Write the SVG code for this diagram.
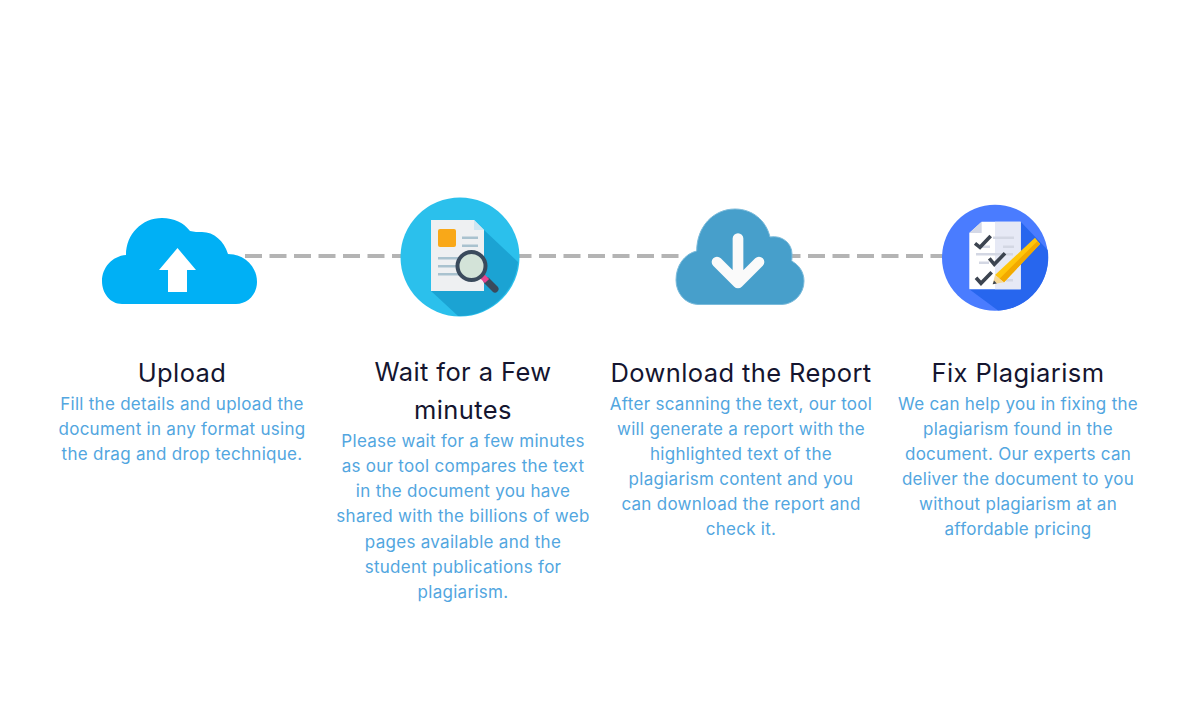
<svg xmlns="http://www.w3.org/2000/svg" width="1200" height="720" viewBox="0 0 1200 720">
<style>
.h{font-family:"Inter","Open Sans",sans-serif;font-size:25.5px;letter-spacing:.4px;fill:#14152f;text-anchor:middle}
.b{font-family:"Inter","Open Sans",sans-serif;font-size:17px;letter-spacing:.28px;fill:#52a6e0;text-anchor:middle}
.c{stroke:#b4b4b4;stroke-width:4;stroke-dasharray:17 7.5;fill:none}
</style>
<rect width="1200" height="720" fill="#fff"/>
<g id="connectors">
<line class="c" x1="245" y1="256" x2="404" y2="256"/>
<line class="c" x1="514.5" y1="256" x2="680" y2="256"/>
<line class="c" x1="783.5" y1="256" x2="950" y2="256"/>
</g>
<g id="node-upload">
<path d="M122 304C110 304 102 293 102 281C102 268 112 256 126 255C126 234 142 218 162 218C174 218 184 223 190 231C194 232 198 232 202 232C214 232 224 241 228 254C244 254 257 266 257 282C257 294 248 304 236 304Z" fill="#00b0f5"/>
<path d="M177.500 248L196 270H187V292H168V270H159Z" fill="#fff"/>
<text class="h" x="182" y="382">Upload</text>
<text class="b" x="182" y="410">Fill the details and upload the</text>
<text class="b" x="182" y="435">document in any format using</text>
<text class="b" x="182" y="460">the drag and drop technique.</text>
</g>
<g id="node-wait">
<circle cx="460" cy="257" r="59.500" fill="#2bc0ec"/>
<path d="M484 230L518 262A59.500 59.500 0 0 1 458 316L431 291Z" fill="#1ba3d3"/>
<path d="M431 220H474L484 230V291H431Z" fill="#eef0f2"/>
<path d="M474 220L484 230H474Z" fill="#cfe6f2"/>
<rect x="438" y="229" width="18" height="18" rx="2" fill="#f9a818"/>
<rect x="462" y="236.500" width="16" height="2.500" fill="#a9c2cf"/>
<rect x="462" y="244.500" width="16" height="2.500" fill="#a9c2cf"/>
<rect x="438" y="257" width="22" height="2.500" fill="#a9c2cf"/>
<rect x="438" y="265" width="22" height="2.500" fill="#a9c2cf"/>
<rect x="438" y="273" width="22" height="2.500" fill="#a9c2cf"/>
<line x1="487" y1="281" x2="495" y2="289" stroke="#3a4a5c" stroke-width="7" stroke-linecap="round"/>
<line x1="481" y1="275" x2="487" y2="281" stroke="#e8458f" stroke-width="6"/>
<circle cx="471.500" cy="266" r="14" fill="#d3e3d8" stroke="#3a4a5c" stroke-width="4"/>
<text class="h" x="463" y="381">Wait for a Few</text>
<text class="h" x="463" y="419">minutes</text>
<text class="b" x="463" y="447">Please wait for a few minutes</text>
<text class="b" x="463" y="472">as our tool compares the text</text>
<text class="b" x="463" y="497">in the document you have</text>
<text class="b" x="463" y="522">shared with the billions of web</text>
<text class="b" x="463" y="548">pages available and the</text>
<text class="b" x="463" y="573">student publications for</text>
<text class="b" x="463" y="598">plagiarism.</text>
</g>
<g id="node-download">
<path d="M698 304.500C685 304 676 293 676 280C676 266 684 254 696.700 251C696.700 227 713 209 735 209C752 209 766 220 770 237C782 235 792 243 792 254C792 257 792 259 791.700 261C799 265 804 272 804 281C804 294 794 304 782 304.500Z" fill="#479fcb" stroke="#7bbbdb" stroke-width="1"/>
<path d="M738 238.500V283M717 262L738 283L759 262" fill="none" stroke="#fafafa" stroke-width="10.700" stroke-linecap="round" stroke-linejoin="round"/>
<text class="h" x="741" y="382">Download the Report</text>
<text class="b" x="741" y="410">After scanning the text, our tool</text>
<text class="b" x="741" y="435">will generate a report with the</text>
<text class="b" x="741" y="460">highlighted text of the</text>
<text class="b" x="741" y="485">plagiarism content and you</text>
<text class="b" x="741" y="510">can download the report and</text>
<text class="b" x="741" y="535">check it.</text>
</g>
<g id="node-fix">
<circle cx="995" cy="257.700" r="53" fill="#4a7cff"/>
<path d="M1020.700 221.700L1047.700 250A53 53 0 0 1 998 310.500L969 289Z" fill="#2766ee"/>
<path d="M981.700 221.700H1020.700V289.300H969.300V233Z" fill="#fff"/>
<path d="M995 221.700H1020.700V289.300H995Z" fill="#e6e9f5"/>
<path d="M981.700 221.700V233H969.300Z" fill="#d4d8e6"/>
<g fill="#d3d7e3"><rect x="993" y="236.500" width="21" height="2.500"/><rect x="980" y="245.500" width="10" height="2.500"/><rect x="1003" y="245.500" width="11" height="2.500"/><rect x="976" y="253" width="37" height="2.500"/><rect x="979" y="261.500" width="10" height="2.500"/><rect x="1009" y="261.500" width="5" height="2.500"/><rect x="1006" y="279" width="7" height="2.500"/></g>
<path d="M975 243.300L980 247.300L990.700 236M989.300 258.300L994.300 264.300L1005 253.300M976 277.700L981 283.300L991.700 272.300" fill="none" stroke="#3c4450" stroke-width="3.600"/>
<path d="M995 275L1035 237.700L1040 244L1004 282.300Z" fill="#ffc60b"/>
<path d="M999.500 278.700L1037.500 241L1040 244L1004 282.300Z" fill="#f2a900"/>
<path d="M995 275L1004 282.300L992.700 284.300Z" fill="#f5d898"/>
<path d="M994 280.500L996.800 283.500L992.700 284.300Z" fill="#3c4450"/>
<text class="h" x="1018" y="382">Fix Plagiarism</text>
<text class="b" x="1018" y="410">We can help you in fixing the</text>
<text class="b" x="1018" y="435">plagiarism found in the</text>
<text class="b" x="1018" y="460">document. Our experts can</text>
<text class="b" x="1018" y="485">deliver the document to you</text>
<text class="b" x="1018" y="510">without plagiarism at an</text>
<text class="b" x="1018" y="535">affordable pricing</text>
</g>
</svg>
